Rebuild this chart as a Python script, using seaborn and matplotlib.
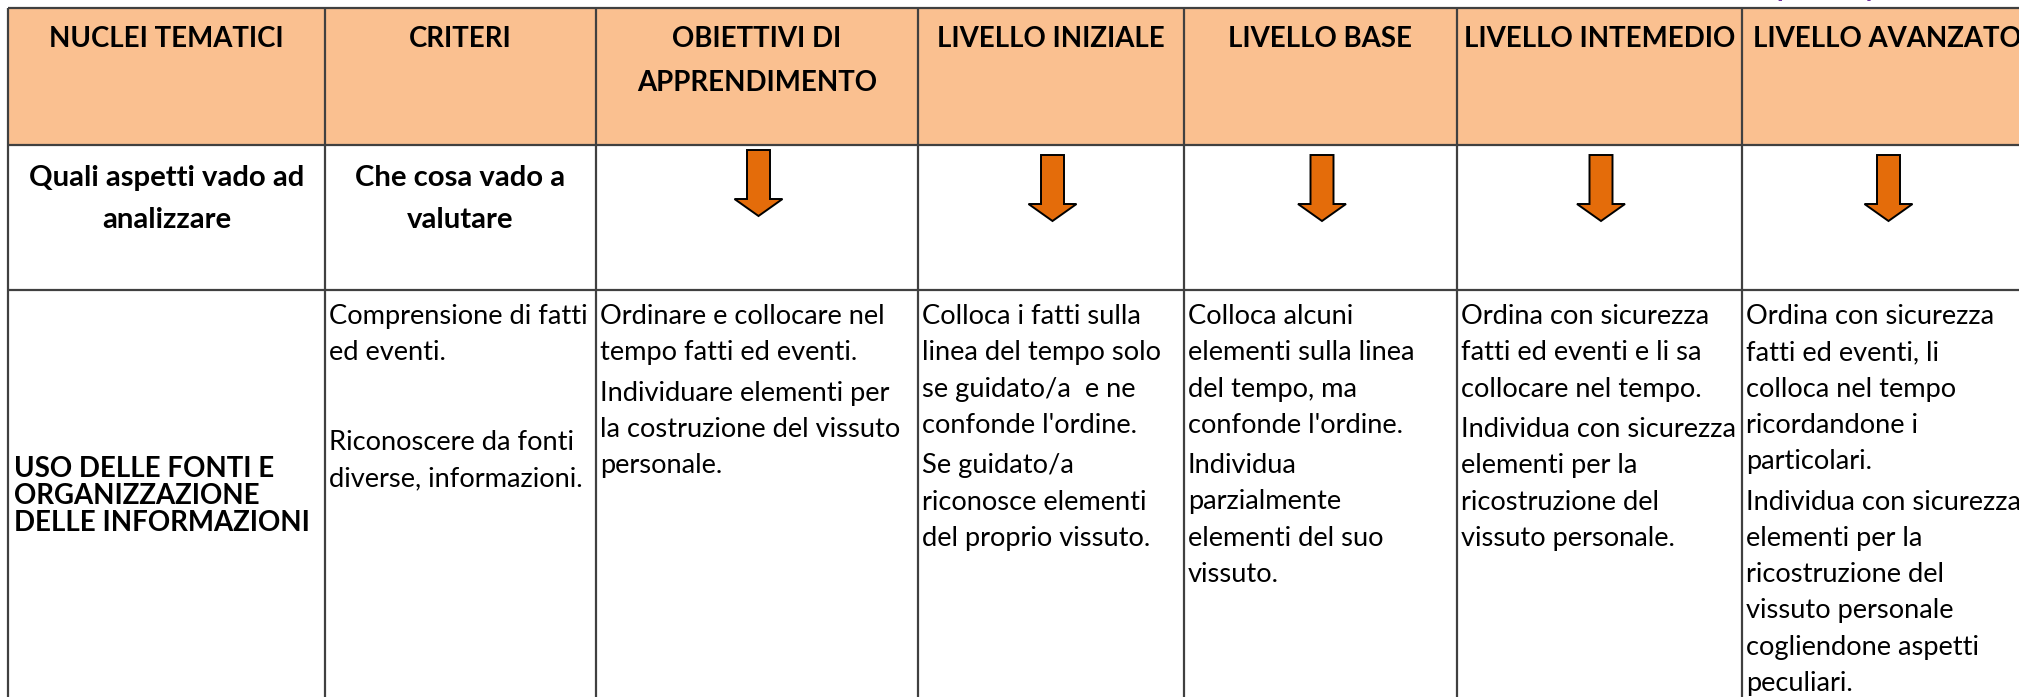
import matplotlib
matplotlib.use("Agg")
import matplotlib.pyplot as plt
from matplotlib.patches import Rectangle, Polygon
import seaborn as sns

# ---------------- data ----------------
headers = [["NUCLEI TEMATICI"], ["CRITERI"], ["OBIETTIVI DI", "APPRENDIMENTO"],
           ["LIVELLO INIZIALE"], ["LIVELLO BASE"], ["LIVELLO INTEMEDIO"],
           ["LIVELLO AVANZATO"]]
row2_labels = [["Quali aspetti vado ad", "analizzare"], ["Che cosa vado a", "valutare"]]
arrow_cols = [2, 3, 4, 5, 6]
nucleo = ["USO DELLE FONTI E", "ORGANIZZAZIONE", "DELLE INFORMAZIONI"]
criteri = [["Comprensione di fatti", "ed eventi."],
           ["Riconoscere da fonti", "diverse, informazioni."]]
obiettivi = [["Ordinare e collocare nel", "tempo fatti ed eventi."],
             ["Individuare elementi per", "la costruzione del vissuto", "personale."]]
iniziale = [["Colloca i fatti sulla", "linea del tempo solo", "se guidato/a  e ne",
             "confonde l'ordine."],
            ["Se guidato/a", "riconosce elementi", "del proprio vissuto."]]
base = [["Colloca alcuni", "elementi sulla linea", "del tempo, ma", "confonde l'ordine."],
        ["Individua", "parzialmente", "elementi del suo", "vissuto."]]
intermedio = [["Ordina con sicurezza", "fatti ed eventi e li sa", "collocare nel tempo."],
              ["Individua con sicurezza", "elementi per la", "ricostruzione del",
               "vissuto personale."]]
avanzato = [["Ordina con sicurezza", "fatti ed eventi, li", "colloca nel tempo",
             "ricordandone i", "particolari."],
            ["Individua con sicurezza", "elementi per la", "ricostruzione del",
             "vissuto personale", "cogliendone aspetti", "peculiari."]]
body_cols = [criteri, obiettivi, iniziale, base, intermedio, avanzato]

# ---------------- style ----------------
sns.set_theme(style="white")
plt.rcParams["font.family"] = ["Lato", "DejaVu Sans"]

HEADER_BG = "#FAC090"
LINE = "#404040"
ARROW = "#E46C0A"
PURPLE = "#7030A0"

W, H = 2019, 697
fig = plt.figure(figsize=(W / 100, H / 100), dpi=100)
ax = fig.add_axes([0, 0, 1, 1])
ax.set_xlim(0, W)
ax.set_ylim(H, 0)
ax.axis("off")

col_edges = [8, 325, 596, 918, 1184, 1457, 1742, 2032]
row_edges = [8, 145, 290, 706]

fig.canvas.draw()
renderer = fig.canvas.get_renderer()


def fit(txt, weight, target):
    t = ax.text(0, 0, txt, fontsize=20, fontweight=weight)
    w = t.get_window_extent(renderer).width
    t.remove()
    return 20 * target / w


fs_head = (fit("LIVELLO INTEMEDIO", "bold", 272) + fit("NUCLEI TEMATICI", "bold", 233)) / 2
fs_row2 = (fit("Quali aspetti vado ad", "bold", 278) + fit("Che cosa vado a", "bold", 208)) / 2
fs_body = (fit("linea del tempo solo", "normal", 240) +
           fit("Individua con sicurezza", "normal", 276)) / 2

# header background
ax.add_patch(Rectangle((col_edges[0], row_edges[0]), W - col_edges[0],
                       row_edges[1] - row_edges[0], facecolor=HEADER_BG,
                       edgecolor="none", zorder=0))

# grid lines
lw = 1.6
for y in row_edges[:3]:
    ax.plot([col_edges[0], W], [y, y], color=LINE, lw=lw, solid_capstyle="butt", zorder=3)
for x in col_edges[:-1]:
    ax.plot([x, x], [row_edges[0], H], color=LINE, lw=lw, solid_capstyle="butt", zorder=3)

# header text
for i, lines in enumerate(headers):
    cx = (col_edges[i] + col_edges[i + 1]) / 2
    for j, ln in enumerate(lines):
        ax.text(cx, 47 + j * 44, ln, ha="center", va="baseline",
                fontsize=fs_head, fontweight="bold", color="black", zorder=4)

# row 2 text
for i, lines in enumerate(row2_labels):
    cx = (col_edges[i] + col_edges[i + 1]) / 2
    for j, ln in enumerate(lines):
        ax.text(cx, 186 + j * 42, ln, ha="center", va="baseline",
                fontsize=fs_row2, fontweight="bold", color="black", zorder=4)

# arrows
for k, c in enumerate(arrow_cols):
    cx = (col_edges[c] + col_edges[c + 1]) / 2 + 1.5
    y0 = 150 if k == 0 else 155
    yh, yt = y0 + 49, y0 + 66
    pts = [(cx - 11.5, y0), (cx + 11.5, y0), (cx + 11.5, yh), (cx + 24, yh),
           (cx, yt), (cx - 24, yh), (cx - 11.5, yh)]
    ax.add_patch(Polygon(pts, closed=True, facecolor=ARROW, edgecolor="black",
                         lw=1.4, joinstyle="miter", zorder=4))

# row 3 first column (bold)
for j, ln in enumerate(nucleo):
    ax.text(14, 477 + j * 27, ln, ha="left", va="baseline",
            fontsize=fs_head, fontweight="bold", color="black", zorder=4)

# row 3 body columns
pitch = 36.3
for i, paras in enumerate(body_cols):
    c = i + 1
    x0 = col_edges[c] + 4
    gap = 53 if c == 1 else 4
    y = 324
    for p, para in enumerate(paras):
        if p > 0:
            y += gap
        for ln in para:
            ax.text(x0, y, ln, ha="left", va="baseline", fontsize=fs_body,
                    color="black", zorder=4)
            y += pitch

# purple title text cut off at the top edge
ax.text(1776, -4, "p", ha="left", va="baseline", fontsize=fs_head,
        fontweight="bold", color=PURPLE, clip_on=False)
ax.text(1864, -4, "y", ha="left", va="baseline", fontsize=fs_head,
        fontweight="bold", color=PURPLE, clip_on=False)

fig.savefig("out.png", dpi=100, facecolor="white")
